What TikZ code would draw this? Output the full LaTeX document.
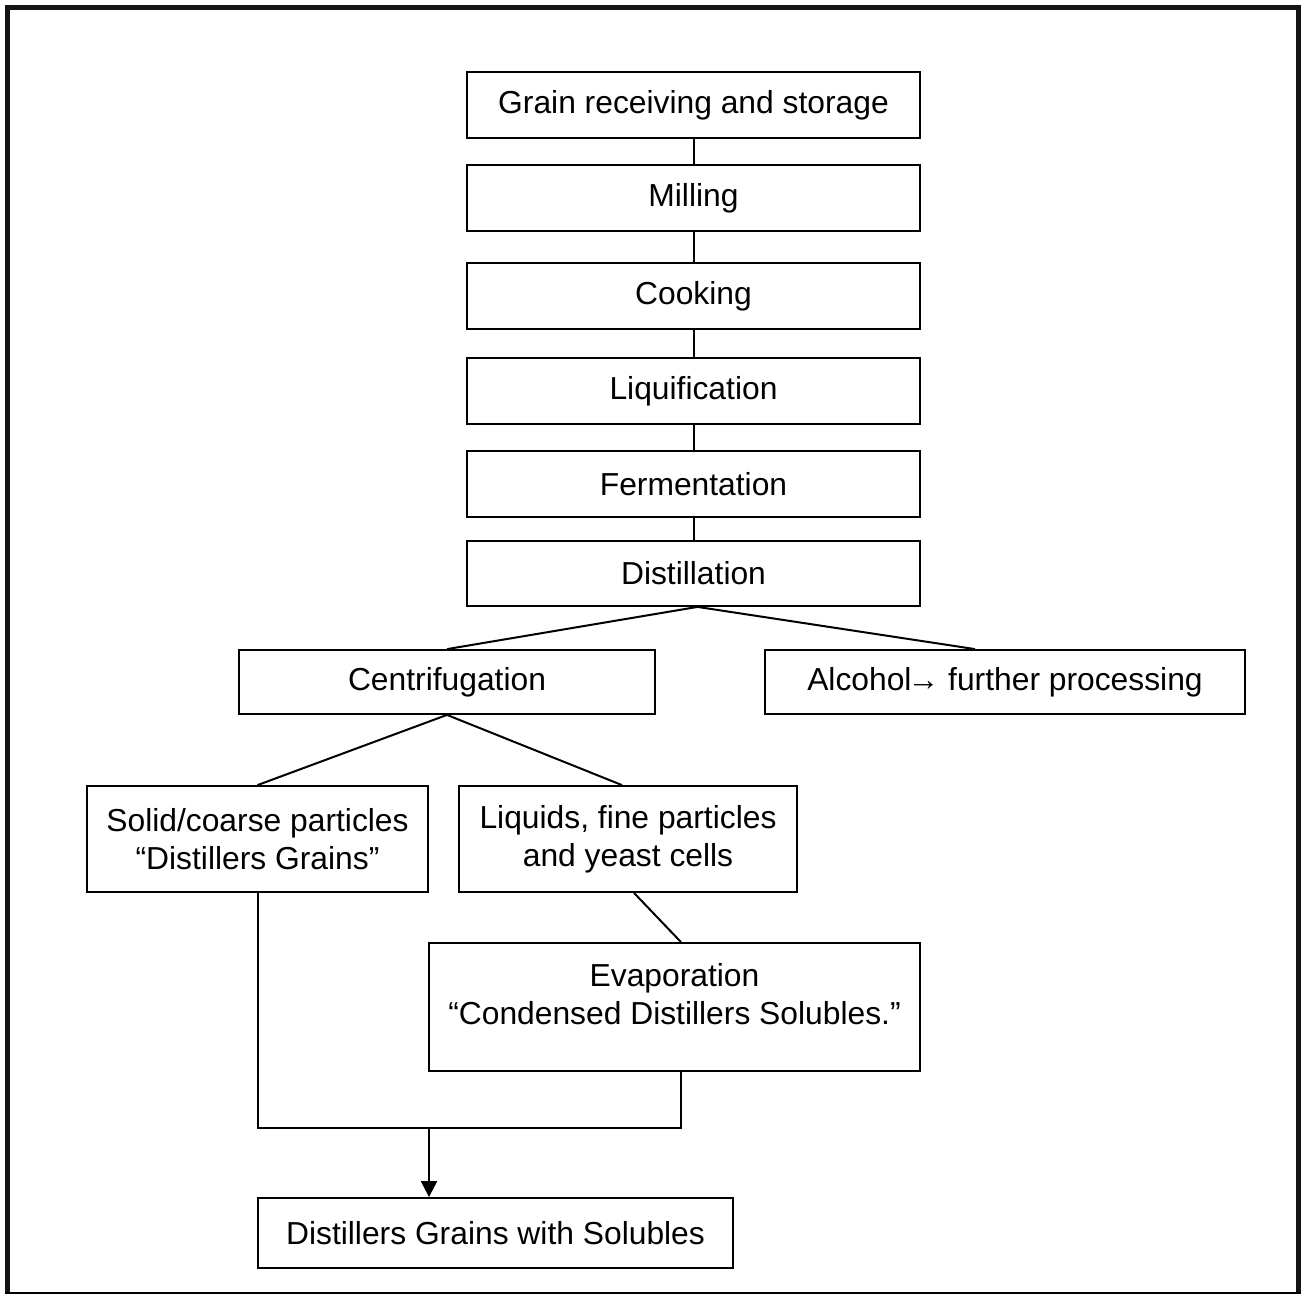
\documentclass[tikz,border=0pt]{standalone}
\usepackage{fontspec}
\setmainfont{Liberation Sans}
\usetikzlibrary{arrows.meta,calc}
\begin{document}
\begin{tikzpicture}[x=1pt,y=-1pt,
  box/.style={draw=black,line width=1.8pt,rectangle,inner sep=0pt,align=center,
    font=\fontsize{31.8}{38}\selectfont},
  conn/.style={draw=black,line width=2pt}]
\useasboundingbox (0,0) rectangle (1301,1294);
% outer frame
\fill[black!92] (5,5) rectangle (10,1294);
\fill[black!92] (5,5) rectangle (1301,10);
\fill[black!92] (1296,5) rectangle (1301,1294);
\draw[black,line width=1.5pt] (5,1293) -- (1301,1293);
% nodes
\node[box,minimum width=453,minimum height=66] (grain) at (693.5,105) {Grain receiving and storage};
\node[box,minimum width=453,minimum height=66] (mill) at (693.5,198) {Milling};
\node[box,minimum width=453,minimum height=66] (cook) at (693.5,296) {Cooking};
\node[box,minimum width=453,minimum height=66] (liq) at (693.5,391) {Liquification};
\node[box,minimum width=453,minimum height=66] (ferm) at (693.5,484) {Fermentation};
\node[box,minimum width=453,minimum height=65] (dist) at (693.5,573.5) {Distillation};
\node[box,minimum width=416,minimum height=64] (cent) at (447,682) {Centrifugation};
\node[box,minimum width=480,minimum height=64] (alc) at (1005,682) {Alcohol\kern-4pt→ further processing};
\node[box,minimum width=341,minimum height=106] (solid) at (257.5,839) {Solid/coarse particles\\``Distillers Grains''};
\node[box,minimum width=338,minimum height=106] (liqd) at (628,839) {Liquids, fine particles\\and yeast cells};
\node[box,minimum width=491,minimum height=128] (evap) at (674.5,1007) {\raisebox{0pt}[\height][\dimexpr\depth+18pt\relax]{\begin{tabular}{@{}c@{}}Evaporation\\``Condensed Distillers Solubles.''\end{tabular}}};
\node[box,minimum width=475,minimum height=70] (dgs) at (495.5,1233) {Distillers Grains with Solubles};
% connectors
\draw[conn] (grain.south) -- (mill.north);
\draw[conn] (mill.south) -- (cook.north);
\draw[conn] (cook.south) -- (liq.north);
\draw[conn] (liq.south) -- (ferm.north);
\draw[conn] (ferm.south) -- (dist.north);
\coordinate (dapex) at ($(dist.south)+(4,0)$);
\draw[conn] (cent.north) -- (dapex) -- (alc.north -| 975,0);
\draw[conn] (solid.north) -- (cent.south) -- (liqd.north -| 622,0);
\draw[conn] (liqd.south -| 634,0) -- (evap.north -| 681,0);
\coordinate (j1) at (solid.south |- 0,1128);
\coordinate (j2) at (681,1128);
\coordinate (jm) at (429,1128);
\draw[conn] (solid.south) -- (j1) -- (j2) -- (evap.south -| j2);
\draw[conn,-{Triangle[width=16pt,length=16pt]}] (jm) -- (dgs.north -| jm);
\end{tikzpicture}
\end{document}
